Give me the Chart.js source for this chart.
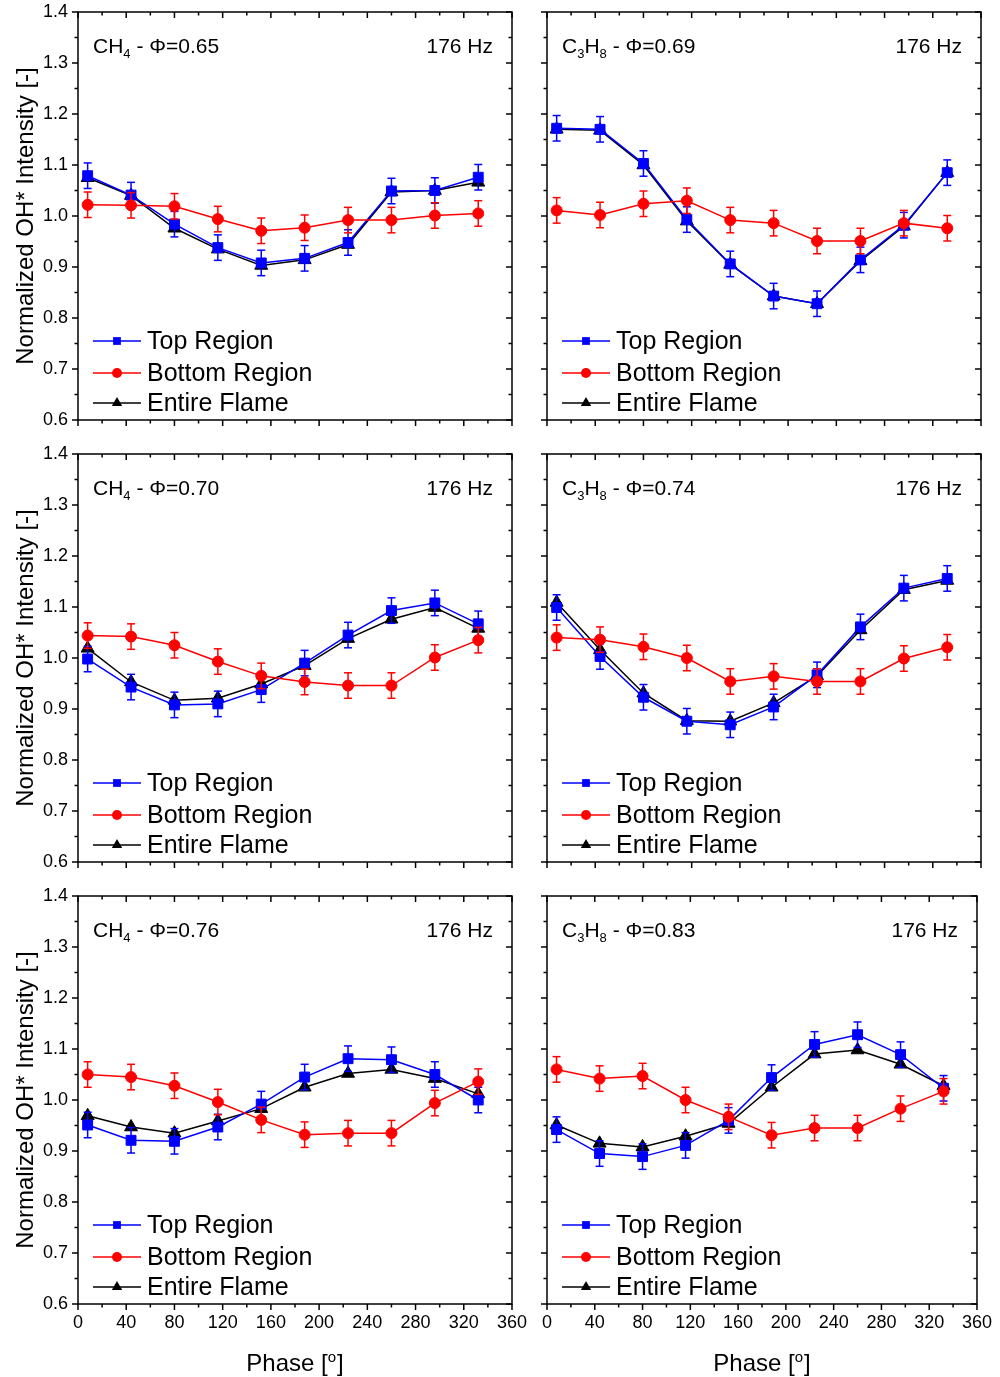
<!DOCTYPE html>
<html>
<head>
<meta charset="utf-8">
<title>OH* intensity vs phase</title>
<script src="https://cdn.jsdelivr.net/npm/chart.js@4.4.0/dist/chart.umd.min.js"></script>
<style>
  html, body { margin: 0; padding: 0; background: #fff; overflow: hidden; }
  #wrap { position: relative; width: 1000px; height: 1377px; overflow: hidden; }
  #wrap canvas { position: absolute; left: 0; }
</style>
</head>
<body>
<div id="wrap"></div>
<script>
// phase angles (deg) of the 10 measurement points
const phase = [8, 44, 80, 116, 152, 188, 224, 260, 296, 332];

// CH4, phi = 0.65
const ch4_065_top    = [1.079, 1.041, 0.984, 0.938, 0.908, 0.917, 0.948, 1.049, 1.050, 1.076];
const ch4_065_bottom = [1.022, 1.021, 1.019, 0.994, 0.971, 0.977, 0.992, 0.992, 1.001, 1.005];
const ch4_065_entire = [1.075, 1.040, 0.976, 0.935, 0.903, 0.914, 0.944, 1.047, 1.050, 1.066];

// C3H8, phi = 0.69
const c3h8_069_top    = [1.172, 1.170, 1.103, 0.993, 0.906, 0.843, 0.828, 0.914, 0.982, 1.085];
const c3h8_069_bottom = [1.011, 1.002, 1.024, 1.030, 0.992, 0.986, 0.951, 0.951, 0.986, 0.976];
const c3h8_069_entire = [1.170, 1.168, 1.100, 0.990, 0.905, 0.843, 0.828, 0.912, 0.980, 1.085];

// CH4, phi = 0.70
const ch4_070_top    = [0.998, 0.943, 0.908, 0.910, 0.938, 0.990, 1.045, 1.093, 1.108, 1.067];
const ch4_070_bottom = [1.044, 1.042, 1.025, 0.993, 0.965, 0.953, 0.946, 0.946, 1.001, 1.035];
const ch4_070_entire = [1.019, 0.953, 0.917, 0.921, 0.949, 0.985, 1.038, 1.076, 1.099, 1.058];

// C3H8, phi = 0.74
const c3h8_074_top    = [1.099, 1.003, 0.923, 0.876, 0.869, 0.904, 0.967, 1.061, 1.137, 1.156];
const c3h8_074_bottom = [1.040, 1.036, 1.022, 1.000, 0.954, 0.964, 0.954, 0.954, 0.999, 1.021];
const c3h8_074_entire = [1.109, 1.016, 0.931, 0.877, 0.876, 0.912, 0.965, 1.055, 1.134, 1.152];

// CH4, phi = 0.76
const ch4_076_top    = [0.951, 0.921, 0.919, 0.947, 0.992, 1.045, 1.081, 1.079, 1.050, 1.000];
const ch4_076_bottom = [1.050, 1.045, 1.028, 0.996, 0.961, 0.932, 0.935, 0.935, 0.994, 1.036];
const ch4_076_entire = [0.969, 0.947, 0.935, 0.959, 0.983, 1.025, 1.052, 1.060, 1.042, 1.012];

// C3H8, phi = 0.83
const c3h8_083_top    = [0.942, 0.895, 0.889, 0.911, 0.960, 1.044, 1.109, 1.128, 1.089, 1.023];
const c3h8_083_bottom = [1.060, 1.042, 1.047, 1.000, 0.967, 0.931, 0.945, 0.945, 0.983, 1.017];
const c3h8_083_entire = [0.951, 0.915, 0.908, 0.929, 0.954, 1.025, 1.090, 1.098, 1.070, 1.028];

// error bar half-widths (same for every point)
const errTop = 0.025;
const errBottom = 0.025;

const seriesNames = ['Top Region', 'Bottom Region', 'Entire Flame'];
const freqLabel = '176 Hz';
const xTitle = 'Phase [';
const yTitle = 'Normalized OH* Intensity [-]';

const panels = [
  { fuel: 'CH4',  phi: '0.65', top: ch4_065_top,  bottom: ch4_065_bottom,  entire: ch4_065_entire,  col: 0, row: 0 },
  { fuel: 'C3H8', phi: '0.69', top: c3h8_069_top, bottom: c3h8_069_bottom, entire: c3h8_069_entire, col: 1, row: 0 },
  { fuel: 'CH4',  phi: '0.70', top: ch4_070_top,  bottom: ch4_070_bottom,  entire: ch4_070_entire,  col: 0, row: 1 },
  { fuel: 'C3H8', phi: '0.74', top: c3h8_074_top, bottom: c3h8_074_bottom, entire: c3h8_074_entire, col: 1, row: 1 },
  { fuel: 'CH4',  phi: '0.76', top: ch4_076_top,  bottom: ch4_076_bottom,  entire: ch4_076_entire,  col: 0, row: 2 },
  { fuel: 'C3H8', phi: '0.83', top: c3h8_083_top, bottom: c3h8_083_bottom, entire: c3h8_083_entire, col: 1, row: 2 },
];

// plot area boxes on the page
const COLS = [[78, 512], [547, 981]];
const ROWS = [[12, 420], [454, 862], [896, 1304]];
const W = 1000, H = 1377;
const SHIFT = 40;   // canvases start above the page so tick labels at the top have room
const AXIS_W = 78, AXIS_H = 40;
const FONT = '"Liberation Sans", Arial, Helvetica, sans-serif';

Chart.defaults.font.family = FONT;
Chart.defaults.color = '#000';

const isMajorY = v => Math.abs(v * 10 - Math.round(v * 10)) < 1e-6;

function line(ctx, x1, y1, x2, y2) {
  ctx.beginPath();
  ctx.moveTo(x1, y1);
  ctx.lineTo(x2, y2);
  ctx.stroke();
}

// error bars, frame, ticks, legend and panel labels
const decor = {
  id: 'decor',
  beforeDatasetDraw(chart, args) {
    const ds = chart.data.datasets[args.index];
    if (!ds.err) return;
    const ys = chart.scales.y;
    const ctx = chart.ctx;
    ctx.save();
    ctx.strokeStyle = ds.borderColor;
    ctx.lineWidth = 1.5;
    args.meta.data.forEach((pt, i) => {
      const v = ds.data[i].y;
      const y1 = ys.getPixelForValue(v + ds.err);
      const y2 = ys.getPixelForValue(v - ds.err);
      line(ctx, pt.x, y1, pt.x, y2);
      line(ctx, pt.x - 4, y1, pt.x + 4, y1);
      line(ctx, pt.x - 4, y2, pt.x + 4, y2);
    });
    ctx.restore();
  },
  afterDraw(chart) {
    const ctx = chart.ctx;
    const a = chart.chartArea;
    const xs = chart.scales.x, ys = chart.scales.y;
    const opts = chart.options.plugins.decor;
    ctx.save();
    ctx.strokeStyle = '#000';
    ctx.lineWidth = 1.5;
    ctx.strokeRect(a.left, a.top, a.right - a.left, a.bottom - a.top);

    xs.ticks.forEach(t => {
      const px = xs.getPixelForValue(t.value);
      const len = t.value % 40 === 0 ? 6 : 3.5;
      line(ctx, px, a.bottom, px, a.bottom + len);
      line(ctx, px, a.top, px, a.top + len);
    });
    ys.ticks.forEach(t => {
      const py = ys.getPixelForValue(t.value);
      const len = isMajorY(t.value) ? 6 : 3.5;
      line(ctx, a.left - len, py, a.left, py);
      line(ctx, a.right - len, py, a.right, py);
    });

    // legend
    const rowY = [a.bottom - 79, a.bottom - 47, a.bottom - 17];
    chart.data.datasets.forEach((ds, i) => {
      const y = rowY[i];
      ctx.strokeStyle = ds.borderColor;
      ctx.lineWidth = 1.3;
      line(ctx, a.left + 15, y, a.left + 63, y);
      ctx.fillStyle = ds.pointBackgroundColor;
      Chart.helpers.drawPoint(ctx, { pointStyle: ds.pointStyle, radius: ds.legendRadius, rotation: 0, borderWidth: 0 }, a.left + 39, y);
      ctx.fillStyle = '#000';
      ctx.font = '25px ' + FONT;
      ctx.textAlign = 'left';
      ctx.textBaseline = 'middle';
      ctx.fillText(ds.label, a.left + 69, y + 1);
    });

    // fuel / equivalence ratio label with subscripts
    ctx.fillStyle = '#000';
    ctx.textBaseline = 'alphabetic';
    ctx.textAlign = 'left';
    let x = a.left + 15;
    const base = a.top + 41;
    for (const ch of opts.fuel) {
      const sub = /[0-9]/.test(ch);
      ctx.font = (sub ? '13px ' : '21px ') + FONT;
      ctx.fillText(ch, x, sub ? base + 5 : base);
      x += ctx.measureText(ch).width;
    }
    ctx.font = '21px ' + FONT;
    ctx.fillText(' - \u03A6=' + opts.phi, x, base);
    ctx.textAlign = 'right';
    ctx.fillText(freqLabel, a.right - 19, base);

    // x axis title on the bottom row
    if (opts.showX) {
      ctx.textAlign = 'left';
      ctx.font = '24px ' + FONT;
      const w1 = ctx.measureText(xTitle).width;
      const w3 = ctx.measureText(']').width;
      ctx.font = '15px ' + FONT;
      const w2 = ctx.measureText('o').width + 1;
      const cx = (a.left + a.right) / 2;
      const sx = cx - (w1 + w2 + w3) / 2;
      const by = a.bottom + 67;
      ctx.font = '24px ' + FONT;
      ctx.fillText(xTitle, sx, by);
      ctx.font = '15px ' + FONT;
      ctx.fillText('o', sx + w1, by - 9);
      ctx.font = '24px ' + FONT;
      ctx.fillText(']', sx + w1 + w2, by);
    }
    ctx.restore();
  }
};

const pts = vals => phase.map((p, i) => ({ x: p, y: vals[i] }));

const wrap = document.getElementById('wrap');

panels.forEach(p => {
  const [L, R] = COLS[p.col];
  const [T, B] = ROWS[p.row];
  const showX = p.row === 2;
  const showY = p.col === 0;

  const cv = document.createElement('canvas');
  cv.width = W;
  cv.height = H + SHIFT;
  cv.style.top = (-SHIFT) + 'px';
  wrap.appendChild(cv);

  new Chart(cv, {
    type: 'line',
    data: {
      datasets: [
        {
          label: seriesNames[0], data: pts(p.top), err: errTop, order: 1,
          borderColor: '#0000ff', pointBackgroundColor: '#0000ff', pointBorderColor: '#0000ff',
          pointStyle: 'rect', pointRadius: 7, legendRadius: 5.5,
        },
        {
          label: seriesNames[1], data: pts(p.bottom), err: errBottom, order: 0,
          borderColor: '#ff0000', pointBackgroundColor: '#ff0000', pointBorderColor: '#ff0000',
          pointStyle: 'circle', pointRadius: 5.5, legendRadius: 5,
        },
        {
          label: seriesNames[2], data: pts(p.entire), order: 2,
          borderColor: '#000000', pointBackgroundColor: '#000000', pointBorderColor: '#000000',
          pointStyle: 'triangle', pointRadius: 7.5, legendRadius: 6,
        },
      ].map(d => Object.assign({ borderWidth: 1.5, pointBorderWidth: 1, tension: 0, fill: false, pointHoverRadius: 0 }, d))
    },
    options: {
      responsive: false,
      animation: false,
      events: [],
      layout: {
        padding: { left: L - AXIS_W, right: W - R, top: T + SHIFT, bottom: H - B - AXIS_H }
      },
      plugins: {
        legend: { display: false },
        tooltip: { enabled: false },
        decor: { fuel: p.fuel, phi: p.phi, showX: showX }
      },
      scales: {
        x: {
          type: 'linear', min: 0, max: 360,
          afterFit: s => { s.height = AXIS_H; },
          grid: { display: false, drawTicks: false },
          border: { display: false },
          ticks: {
            display: showX, stepSize: 20, autoSkip: false, maxRotation: 0, padding: 8,
            font: { size: 18 },
            callback: v => (v % 40 === 0 ? String(v) : '')
          }
        },
        y: {
          min: 0.6, max: 1.4,
          afterFit: s => { s.width = AXIS_W; },
          grid: { display: false, drawTicks: false },
          border: { display: false },
          ticks: {
            display: showY, stepSize: 0.05, autoSkip: false, padding: 10,
            font: { size: 18 },
            callback: v => (isMajorY(v) ? v.toFixed(1) : '')
          },
          title: {
            display: showY, text: yTitle, font: { size: 24 },
            padding: { top: 12, bottom: 0 }
          }
        }
      }
    },
    plugins: [decor]
  });
});
</script>
</body>
</html>
